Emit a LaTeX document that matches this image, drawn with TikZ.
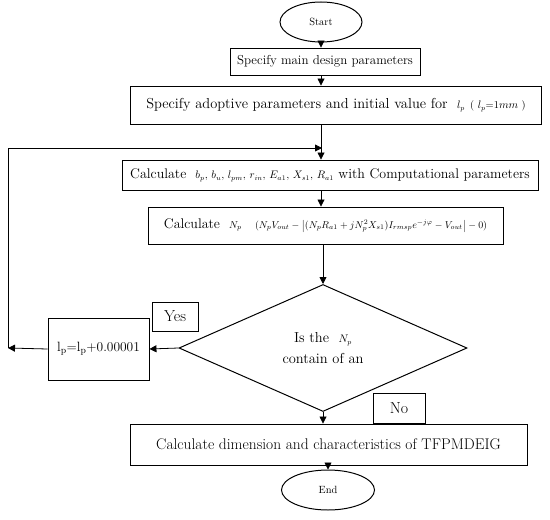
\documentclass[tikz,border=0pt]{standalone}
\usepackage{tikz}
\usetikzlibrary{arrows.meta, shapes.geometric}
\usepackage{amsmath}
\newcommand{\mth}{\fontsize{10.5}{12}\selectfont}

\begin{document}
\begin{tikzpicture}[x=1bp,y=-1bp,font=\fontsize{14.5}{17}\selectfont,>={Triangle[length=7bp,width=7bp]},
     box/.style={draw,line width=0.9pt,align=center,inner sep=2pt},
     term/.style={draw,ellipse,line width=1pt,inner sep=0pt,font=\fontsize{10.5}{12}\selectfont},
     tag/.style={draw,line width=1pt,inner sep=0pt,font=\fontsize{16}{18}\selectfont}]
    \useasboundingbox (0,0) rectangle (550,520);
    \node[term,minimum width=82bp,minimum height=40bp] (start) at (321,22) {Start};
    \node[box,minimum width=190bp,minimum height=27bp,font=\fontsize{13}{15}\selectfont] (spec) at (325,61.5) {Specify main design parameters};
    \node[box,minimum width=411bp,minimum height=38bp] (adapt) at (336,105)
        {Specify adoptive parameters and initial value for \ {\mth$l_p$\, ( $l_p$=1$mm$ )}};
    \node[box,minimum width=416bp,minimum height=30bp,font=\fontsize{14}{16}\selectfont] (calc) at (330,175)
        {Calculate \ {\mth$b_p,\,b_u,\,l_{pm},\,r_{in},\,E_{a1},\,X_{s1},\,R_{a1}$} with Computational parameters};
    \node[box,minimum width=355bp,minimum height=37bp,font=\fontsize{14}{16}\selectfont] (calcN) at (325.5,225.5)
        {Calculate \ {\fontsize{10}{12}\selectfont$N_p$ \quad $(N_pV_{out} - \big|(N_pR_{a1} + jN_p^2X_{s1})I_{rmsp}e^{-j\varphi} - V_{out}\big| - 0)$}};
    \node[draw,diamond,line width=1pt,aspect=2.27,inner sep=0pt,minimum width=288bp,minimum height=127bp,align=center] (check) at (323,348)
        {Is the \ {\mth$N_p$}\\[4pt] contain of an};
    \node[box,minimum width=101bp,minimum height=62bp,font=\fontsize{13.5}{16}\selectfont] (incr) at (98.5,349) {l\textsubscript{p}=l\textsubscript{p}+0.00001};
    \node[tag,minimum width=46bp,minimum height=29bp] (yes) at (175,316.5) {Yes};
    \node[tag,minimum width=52bp,minimum height=30bp] (no) at (399,408) {No};
    \node[box,minimum width=397bp,minimum height=41bp,font=\fontsize{15.5}{18}\selectfont] (dimen) at (328.5,444.5) {Calculate dimension and characteristics of TFPMDEIG};
    \node[term,minimum width=93bp,minimum height=40bp] (end) at (328,490) {End};
    \coordinate (lft) at (8,348);
    \coordinate (join) at (322,148);
    \draw[->,thick] (start.south) -- (start.south |- spec.north);
    \draw[->,thick] (start.south |- spec.south) -- (start.south |- adapt.north);
    \draw[->,thick] (start.south |- adapt.south) -- (start.south |- calc.north);
    \draw[->,thick] (start.south |- calc.south) -- (start.south |- calcN.north);
    \draw[->,thick] (calcN.south -| check.north) -- (check.north);
    \draw[->,thick] (check.west) -- (incr.east);
    \draw[->,thick] (incr.west) -- (lft);
    \draw[->,thick] (lft) |- (join);
    \draw[->,thick] (check.south) -- (check.south |- dimen.north);
    \draw[->,thick] (end.north |- dimen.south) -- (end.north);
  \end{tikzpicture}
\end{document}
